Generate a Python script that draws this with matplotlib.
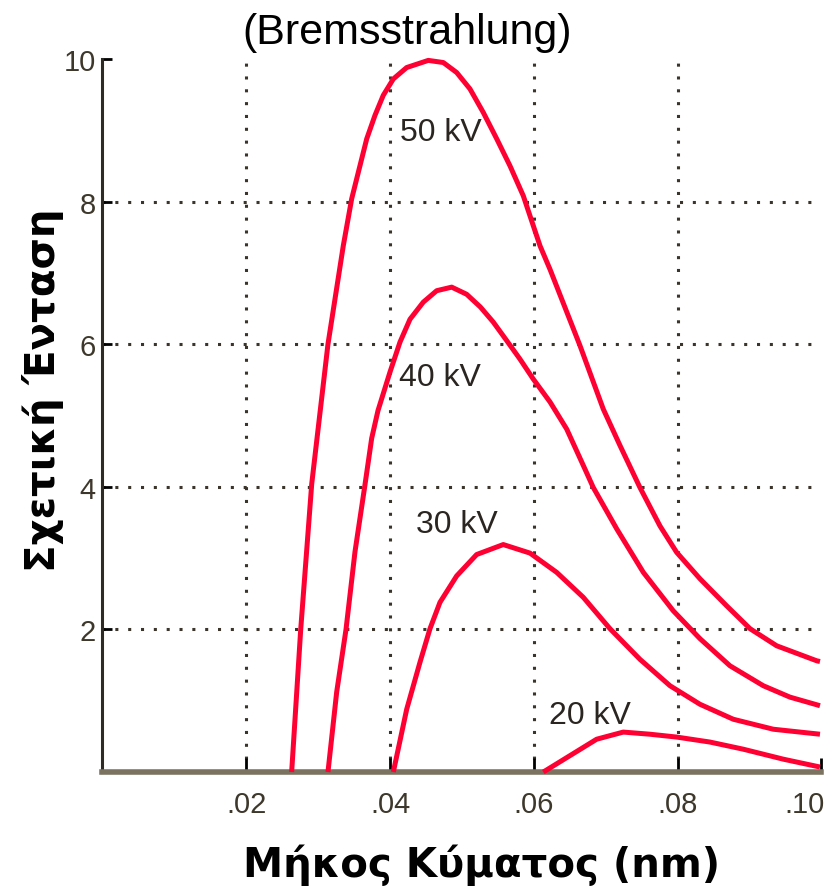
import matplotlib
matplotlib.use("Agg")
import matplotlib.pyplot as plt
from matplotlib.transforms import ScaledTranslation

# wavelength (nm) and relative intensity
x50 = [0.02631, 0.02757, 0.02910, 0.03136, 0.03349, 0.03466, 0.03558, 0.03675, 0.03790,
       0.03905, 0.04045, 0.04231, 0.04531, 0.04740, 0.04926, 0.05111, 0.05296, 0.05483,
       0.05668, 0.05853, 0.06085, 0.06224, 0.06641, 0.06965, 0.07197, 0.07475, 0.07754,
       0.07986, 0.08310, 0.08682, 0.09006, 0.09377, 0.09933, 0.09979]
y50 = [0.0, 2.0, 4.04, 6.0, 7.38, 8.04, 8.41, 8.88, 9.21,
       9.49, 9.72, 9.88, 9.98, 9.95, 9.81, 9.58, 9.25, 8.88,
       8.50, 8.08, 7.38, 7.05, 5.98, 5.09, 4.58, 3.99, 3.45,
       3.08, 2.71, 2.33, 2.01, 1.77, 1.56, 1.55]

x40 = [0.03136, 0.03257, 0.03387, 0.03512, 0.03651, 0.03744, 0.03832, 0.03999, 0.04138,
       0.04277, 0.04462, 0.04648, 0.04857, 0.05065, 0.05257, 0.05435, 0.05622, 0.05807,
       0.05992, 0.06224, 0.06456, 0.06687, 0.06826, 0.07152, 0.07522, 0.07939, 0.08310,
       0.08727, 0.09191, 0.09562, 0.09979]
y40 = [0.0, 1.12, 2.0, 3.09, 4.03, 4.68, 5.07, 5.61, 6.03,
       6.35, 6.59, 6.75, 6.80, 6.70, 6.52, 6.31, 6.05, 5.79,
       5.51, 5.19, 4.81, 4.30, 3.99, 3.41, 2.80, 2.26, 1.87,
       1.49, 1.21, 1.05, 0.93]

x30 = [0.04045, 0.04231, 0.04416, 0.04555, 0.04694, 0.04926, 0.05204, 0.05574, 0.05946,
       0.06317, 0.06687, 0.07058, 0.07476, 0.07893, 0.08310, 0.08773, 0.09330, 0.09979]
y30 = [0.0, 0.88, 1.54, 2.01, 2.38, 2.75, 3.05, 3.19, 3.07,
       2.80, 2.45, 2.01, 1.58, 1.21, 0.95, 0.74, 0.60, 0.53]

x20 = [0.06131, 0.06502, 0.06873, 0.07243, 0.07615, 0.07986, 0.08449, 0.08912, 0.09469,
       0.09979]
y20 = [0.0, 0.23, 0.46, 0.56, 0.53, 0.49, 0.42, 0.32, 0.18, 0.07]

curve_labels = ["50 kV", "40 kV", "30 kV", "20 kV"]
label_pos = [(0.0471, 8.98), (0.0469, 5.54), (0.0493, 3.48), (0.0678, 0.80)]

xticks = [0.02, 0.04, 0.06, 0.08, 0.10]
xticklabels = [".02", ".04", ".06", ".08", ".10"]
yticks = [2, 4, 6, 8, 10]

red = "#ff0033"
gridc = "#3a342a"
spinec = "#7b7260"

fig = plt.figure(figsize=(8.38, 8.95), dpi=100)
ax = fig.add_axes([0.1223, 0.1363, 0.858, 0.7967])

for xs, ys in [(x50, y50), (x40, y40), (x30, y30), (x20, y20)]:
    ax.plot(xs, ys, color=red, lw=3.6, clip_on=False, zorder=3,
            solid_capstyle="butt", solid_joinstyle="round")

for x in xticks[:-1]:
    ax.plot([x, x], [0, 10], color=gridc, lw=2.2, ls=(0, (1, 3.2)), zorder=1)
for y in yticks[:-1]:
    ax.plot([0, 0.10], [y, y], color=gridc, lw=2.2, ls=(0, (1, 3.2)), zorder=1)

for txt, (tx, ty) in zip(curve_labels, label_pos):
    ax.text(tx, ty, txt, fontsize=23, family="Liberation Sans", color="#2a2520",
            ha="center", va="center")

ax.set_xlim(0, 0.10)
ax.set_ylim(0, 10)
ax.set_xticks(xticks)
ax.set_xticklabels(xticklabels)
ax.set_yticks(yticks)
ax.tick_params(axis="x", direction="in", length=10, width=2, color="black",
               labelsize=21, labelcolor="#3e382c", pad=13)
ax.tick_params(axis="y", direction="in", length=7, width=2, color="black",
               labelsize=21, labelcolor="#3e382c", pad=5)
for lab in ax.get_xticklabels() + ax.get_yticklabels():
    lab.set_family("Liberation Sans")

# last x label sits against the right edge, nudge it left
last = ax.get_xticklabels()[-1]
last.set_transform(last.get_transform() + ScaledTranslation(-12 / 72, 0, fig.dpi_scale_trans))

ax.spines["top"].set_visible(False)
ax.spines["right"].set_visible(False)
ax.spines["bottom"].set_color(spinec)
ax.spines["bottom"].set_linewidth(4)
ax.spines["left"].set_color("#2e2a24")
ax.spines["left"].set_linewidth(2.2)

ax.text(0.424, 1.038, "(Bremsstrahlung)", transform=ax.transAxes, fontsize=31,
        family="Liberation Sans", ha="center", va="center", color="black")

ax.set_xlabel("Μήκος Κύματος (nm)", fontsize=29, fontweight="bold", family="DejaVu Sans")
ax.xaxis.set_label_coords(0.527, -0.129)
ax.xaxis.label.set_va("center")
ax.set_ylabel("Σχετική Ένταση", fontsize=29, fontweight="bold", family="DejaVu Sans")
ax.yaxis.set_label_coords(-0.083, 0.537)
ax.yaxis.label.set_va("center")

fig.savefig("out.png", dpi=100)
